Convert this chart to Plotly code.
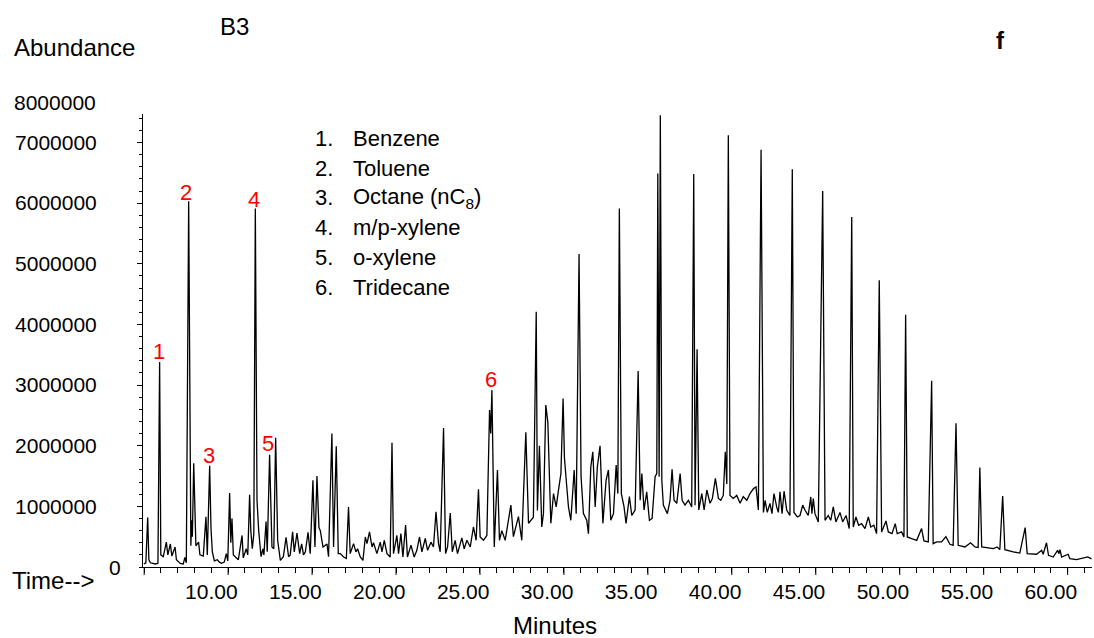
import plotly.graph_objects as go

# Retention time (minutes) and abundance
minutes = [
    5.98, 6.10, 6.21, 6.28, 6.37, 6.67, 6.82, 6.92, 6.99, 7.14, 7.32, 7.41, 7.56, 7.65, 7.84, 7.92,
    8.15, 8.33, 8.42, 8.51, 8.65, 8.78, 8.83, 8.87, 8.95, 9.01, 9.08, 9.24, 9.32, 9.52, 9.68, 9.76,
    9.90, 9.98, 10.06, 10.18, 10.36, 10.48, 10.60, 10.77, 10.89, 10.98, 11.09, 11.16, 11.23, 11.31,
    11.49, 11.61, 11.83, 11.90, 12.08, 12.17, 12.28, 12.35, 12.44, 12.53, 12.62, 12.72, 12.82, 12.96,
    13.07, 13.13, 13.26, 13.33, 13.47, 13.61, 13.72, 13.83, 13.95, 14.11, 14.29, 14.45, 14.60, 14.70,
    14.84, 14.94, 15.10, 15.26, 15.38, 15.49, 15.60, 15.76, 15.89, 16.05, 16.17, 16.29, 16.41, 16.49,
    16.65, 16.89, 16.98, 17.18, 17.28, 17.44, 17.56, 17.68, 17.88, 18.04, 18.17, 18.27, 18.47, 18.61,
    18.71, 18.87, 19.03, 19.17, 19.27, 19.42, 19.57, 19.66, 19.86, 20.06, 20.16, 20.30, 20.46, 20.65,
    20.76, 20.85, 21.05, 21.15, 21.29, 21.41, 21.57, 21.68, 21.89, 22.08, 22.24, 22.40, 22.54, 22.74,
    22.88, 23.08, 23.23, 23.38, 23.53, 23.63, 23.83, 23.95, 24.07, 24.23, 24.35, 24.52, 24.66, 24.92,
    25.06, 25.22, 25.42, 25.61, 25.77, 25.91, 26.01, 26.21, 26.41, 26.57, 26.64, 26.71, 26.85, 27.04,
    27.16, 27.30, 27.50, 27.84, 27.99, 28.29, 28.49, 28.73, 28.89, 29.18, 29.35, 29.42, 29.54, 29.68,
    29.78, 29.92, 30.04, 30.12, 30.22, 30.38, 30.54, 30.67, 30.82, 30.95, 31.03, 31.17, 31.27, 31.41,
    31.61, 31.73, 31.90, 32.02, 32.16, 32.36, 32.46, 32.60, 32.72, 32.86, 32.99, 33.15, 33.32, 33.51,
    33.65, 33.79, 33.95, 34.11, 34.21, 34.30, 34.42, 34.58, 34.70, 34.90, 35.04, 35.24, 35.42, 35.54,
    35.64, 35.77, 35.93, 36.09, 36.25, 36.43, 36.53, 36.59, 36.67, 36.74, 36.83, 36.92, 37.16, 37.32,
    37.44, 37.56, 37.72, 37.92, 38.04, 38.21, 38.41, 38.61, 38.73, 38.81, 38.93, 39.03, 39.21, 39.35,
    39.51, 39.70, 39.84, 40.02, 40.20, 40.34, 40.49, 40.61, 40.70, 40.79, 40.89, 41.09, 41.29, 41.49,
    41.68, 41.89, 42.08, 42.28, 42.44, 42.58, 42.74, 42.88, 42.98, 43.11, 43.27, 43.39, 43.51, 43.67,
    43.77, 43.87, 43.99, 44.11, 44.27, 44.46, 44.60, 44.70, 44.90, 45.06, 45.22, 45.36, 45.55, 45.70,
    45.77, 45.85, 45.95, 46.15, 46.41, 46.55, 46.74, 46.89, 47.04, 47.20, 47.44, 47.60, 47.80, 47.99,
    48.14, 48.23, 48.39, 48.55, 48.73, 48.93, 49.13, 49.27, 49.46, 49.62, 49.78, 49.92, 50.18, 50.32,
    50.54, 50.73, 50.85, 51.11, 51.25, 51.35, 51.45, 51.71, 52.01, 52.30, 52.44, 52.70, 52.90, 52.99,
    53.20, 53.49, 53.75, 53.99, 54.18, 54.35, 54.48, 54.88, 55.22, 55.48, 55.67, 55.77, 55.88, 56.17,
    56.57, 56.80, 56.96, 57.13, 57.26, 57.76, 58.15, 58.47, 58.59, 59.15, 59.45, 59.54, 59.74, 59.86,
    60.14, 60.40, 60.48, 60.54, 60.64, 61.03, 61.13, 61.53, 61.92, 62.20, 62.42,
]
abundance = [
    50000, 70000, 815000, 120000, 70000, 50000, 60000, 3380000, 200000, 170000, 410000, 200000, 380000, 180000, 330000, 120000,
    60000, 50000, 160000, 70000, 6030000, 350000, 770000, 500000, 1710000, 1000000, 350000, 410000, 200000, 180000, 830000, 200000,
    1670000, 630000, 250000, 100000, 120000, 80000, 60000, 80000, 220000, 100000, 1220000, 400000, 800000, 200000,
    160000, 120000, 520000, 150000, 300000, 200000, 1190000, 600000, 300000, 550000, 5910000, 1100000, 600000, 170000,
    300000, 200000, 750000, 250000, 1850000, 330000, 300000, 2130000, 440000, 110000, 170000, 490000, 170000, 200000,
    580000, 250000, 560000, 220000, 380000, 200000, 250000, 570000, 220000, 1430000, 330000, 1500000, 650000, 600000,
    330000, 380000, 170000, 2200000, 330000, 1990000, 220000, 220000, 165000, 140000, 990000, 220000, 385000, 250000,
    300000, 165000, 110000, 495000, 385000, 578000, 330000, 400000, 220000, 410000, 250000, 440000, 220000, 165000,
    2050000, 220000, 520000, 220000, 550000, 165000, 690000, 165000, 360000, 165000, 275000, 495000, 250000, 470000,
    275000, 410000, 330000, 910000, 385000, 250000, 2290000, 220000, 330000, 890000, 250000, 440000, 220000, 480000,
    300000, 440000, 330000, 660000, 440000, 1280000, 495000, 440000, 520000, 2590000, 2200000, 2920000, 330000, 1600000,
    440000, 600000, 440000, 1020000, 500000, 830000, 440000, 2220000, 720000, 820000, 4210000, 930000, 2000000, 660000,
    880000, 2670000, 2390000, 1500000, 720000, 1210000, 990000, 1260000, 1540000, 2780000, 1800000, 1320000, 990000, 770000,
    1600000, 880000, 5160000, 1490000, 880000, 770000, 550000, 1650000, 1900000, 990000, 1650000, 2000000, 720000, 1430000,
    1600000, 770000, 880000, 1680000, 1210000, 5910000, 1210000, 990000, 720000, 1160000, 850000, 940000, 3230000, 1100000,
    1540000, 940000, 1240000, 770000, 800000, 1490000, 1540000, 6490000, 1490000, 7450000, 1430000, 1020000, 880000, 1100000,
    1610000, 1100000, 1050000, 1540000, 1100000, 1020000, 1100000, 990000, 6480000, 1020000, 3590000, 940000, 1210000, 940000,
    1270000, 1050000, 1130000, 1460000, 1130000, 1100000, 1180000, 1900000, 1370000, 7120000, 1180000, 1130000, 1180000, 1050000,
    1160000, 1100000, 1210000, 1290000, 1320000, 940000, 6880000, 900000, 1100000, 900000, 1050000, 880000, 1210000, 990000,
    900000, 1240000, 880000, 1250000, 935000, 850000, 6560000, 900000, 825000, 850000, 1020000, 935000, 850000, 1155000,
    880000, 1130000, 880000, 743000, 6200000, 770000, 850000, 770000, 990000, 743000, 900000, 743000, 850000, 633000,
    5770000, 660000, 825000, 688000, 716000, 633000, 825000, 660000, 688000, 550000, 4730000, 578000, 760000, 578000,
    550000, 716000, 550000, 578000, 495000, 4160000, 495000, 468000, 440000, 633000, 430000, 413000, 3070000, 385000,
    413000, 413000, 500000, 375000, 358000, 2370000, 358000, 330000, 400000, 330000, 320000, 1640000, 330000, 320000,
    303000, 330000, 286000, 1170000, 286000, 248000, 230000, 650000, 220000, 210000, 275000, 210000, 400000, 193000,
    165000, 275000, 220000, 286000, 165000, 210000, 138000, 122000, 140000, 165000, 135000,
]

# Labelled peaks: label, retention time, label height
peak_labels = ["1", "2", "3", "4", "5", "6"]
peak_label_time = [6.90, 8.51, 9.88, 12.54, 13.39, 26.67]
peak_label_abund = [3550000, 6180000, 1840000, 6060000, 2030000, 3090000]

compound_numbers = ["1.", "2.", "3.", "4.", "5.", "6."]
compound_names = ["Benzene", "Toluene", "Octane (nC<sub>8</sub>)", "m/p-xylene", "o-xylene", "Tridecane"]

x_tick_vals = [10, 15, 20, 25, 30, 35, 40, 45, 50, 55, 60]
x_tick_text = ["10.00", "15.00", "20.00", "25.00", "30.00", "35.00", "40.00", "45.00", "50.00", "55.00", "60.00"]
y_tick_vals = [1000000, 2000000, 3000000, 4000000, 5000000, 6000000, 7000000]
y_tick_text = ["1000000", "2000000", "3000000", "4000000", "5000000", "6000000", "7000000"]
long_tick_times = [6, 11, 16, 21, 26, 31, 36, 41, 46, 51, 56, 61]

FONT = "Liberation Sans, Arial, sans-serif"
W, H = 1094, 638
L, R, T, B = 143, 1092, 114, 567


def px(xp):
    return (xp - L) / (R - L)


def py(yp):
    return (B - yp) / (B - T)


fig = go.Figure()
fig.add_trace(go.Scatter(x=minutes, y=abundance, mode="lines",
                         line=dict(color="black", width=1.3), hoverinfo="skip",
                         showlegend=False))

annotations = []
for lab, t, a in zip(peak_labels, peak_label_time, peak_label_abund):
    annotations.append(dict(x=t, y=a, xref="x", yref="y", text=lab, showarrow=False,
                            font=dict(family=FONT, size=22, color="red"),
                            xanchor="center", yanchor="middle"))

row_y = [139, 168, 198, 227.5, 257.5, 287]
for num, name, yy in zip(compound_numbers, compound_names, row_y):
    annotations.append(dict(x=px(313), y=py(yy), xref="paper", yref="paper", text=num,
                            showarrow=False, font=dict(family=FONT, size=22, color="black"),
                            xanchor="left", yanchor="middle"))
    annotations.append(dict(x=px(351), y=py(yy), xref="paper", yref="paper", text=name,
                            showarrow=False, font=dict(family=FONT, size=22, color="black"),
                            xanchor="left", yanchor="middle"))


def txt(text, xp, yp, size, xanchor="left", bold=False):
    return dict(x=px(xp), y=py(yp), xref="paper", yref="paper",
                text=f"<b>{text}</b>" if bold else text, showarrow=False,
                font=dict(family=FONT, size=size, color="black"),
                xanchor=xanchor, yanchor="middle")


annotations += [
    txt("Abundance", 12, 47.5, 24),
    txt("B3", 234, 26.5, 24, "center"),
    txt("f", 1000, 40, 24, "center", bold=True),
    txt("Time-->", 10, 580, 24),
    txt("Minutes", 555, 625, 24, "center"),
    txt("8000000", 98, 102.5, 21, "right"),
    txt("0", 115, 567.5, 21, "center"),
]

shapes = []
for t in long_tick_times:
    shapes.append(dict(type="line", xref="x", yref="paper", x0=t, x1=t, y0=0, y1=-8 / (B - T),
                       line=dict(color="black", width=1)))

fig.update_layout(
    width=W, height=H,
    margin=dict(l=L, r=W - R, t=T, b=H - B),
    paper_bgcolor="white", plot_bgcolor="white",
    font=dict(family=FONT, size=21, color="black"),
    annotations=annotations, shapes=shapes,
    xaxis=dict(range=[5.93, 62.45], showgrid=False, zeroline=False,
               showline=True, linecolor="black", linewidth=1,
               tickmode="array", tickvals=x_tick_vals, ticktext=x_tick_text,
               ticks="outside", ticklen=5, tickcolor="black", tickwidth=1,
               ticklabelstandoff=1,
               minor=dict(dtick=1, ticks="outside", ticklen=5, tickcolor="black", tickwidth=1),
               tickfont=dict(family=FONT, size=21, color="black")),
    yaxis=dict(range=[0, 7470000], showgrid=False, zeroline=False,
               showline=True, linecolor="black", linewidth=1,
               tickmode="array", tickvals=y_tick_vals, ticktext=y_tick_text,
               ticks="outside", ticklen=5, tickcolor="black", tickwidth=1,
               ticklabelstandoff=36,
               minor=dict(dtick=200000, ticks="outside", ticklen=3, tickcolor="black", tickwidth=1),
               tickfont=dict(family=FONT, size=21, color="black")),
)

fig.write_html("out.html")
